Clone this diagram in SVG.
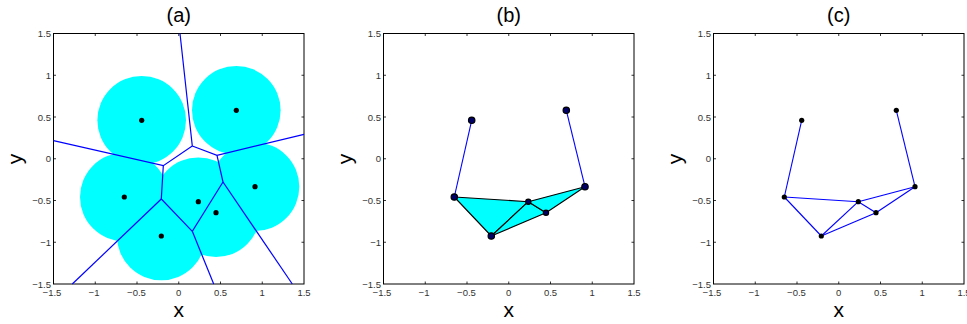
<svg xmlns="http://www.w3.org/2000/svg" width="967" height="324" viewBox="0 0 967 324">
<style>
.frame{fill:none;stroke:#000;stroke-width:1}
.tick{stroke:#000;stroke-width:0.8}
.tl{font-family:"Liberation Sans",Arial,sans-serif;font-size:9.5px;fill:#333}
.tx{text-anchor:middle}
.ty{text-anchor:end}
.ax{font-family:"Liberation Sans",Arial,sans-serif;font-size:21px;fill:#000;text-anchor:middle}
.ttl{font-family:"Liberation Sans",Arial,sans-serif;font-size:20px;fill:#000;text-anchor:middle}
.cell{fill:#00ffff}
.vor{stroke:#0000ff;stroke-width:1.2;fill:none}
.edge{stroke:#0000ff;stroke-width:1.1;fill:none}
.tri{fill:#00ffff;stroke:#000;stroke-width:1.1;stroke-linejoin:round}
.dot{fill:#000}
.bdot{fill:#000066;stroke:#000;stroke-width:1.2}
</style>
<defs>
<g id="axes">
<rect class="frame" x="53.5" y="33.5" width="250.5" height="250.5"/>
<g class="tick">
<path d="M95.25,284v-2.5M137,284v-2.5M178.75,284v-2.5M220.5,284v-2.5M262.25,284v-2.5"/>
<path d="M95.25,33.5v2.5M137,33.5v2.5M178.75,33.5v2.5M220.5,33.5v2.5M262.25,33.5v2.5"/>
<path d="M53.5,75.25h2.5M53.5,117h2.5M53.5,158.75h2.5M53.5,200.5h2.5M53.5,242.25h2.5"/>
<path d="M304,75.25h-2.5M304,117h-2.5M304,158.75h-2.5M304,200.5h-2.5M304,242.25h-2.5"/>
</g>
<g class="tl tx">
<text x="52" y="296">−1.5</text>
<text x="94" y="296">−1</text>
<text x="136.5" y="296">−0.5</text>
<text x="178.75" y="296">0</text>
<text x="220.5" y="296">0.5</text>
<text x="262.25" y="296">1</text>
<text x="304" y="296">1.5</text>
</g>
<g class="tl ty">
<text x="51" y="37">1.5</text>
<text x="51" y="78.5">1</text>
<text x="51" y="120.5">0.5</text>
<text x="51" y="162">0</text>
<text x="51" y="204">−0.5</text>
<text x="51" y="245.5">−1</text>
<text x="51" y="287.5">−1.5</text>
</g>
<text class="ax" x="178.75" y="317">x</text>
<text class="ax" transform="translate(22,159) rotate(-90)">y</text>
</g>
</defs>

<g id="plot-a">
<use href="#axes"/>
<text class="ttl" x="178.75" y="22">(a)</text>
<g id="cells-a">
<circle class="cell" cx="141.7" cy="120.3" r="44.3"/>
<circle class="cell" cx="236.3" cy="110.3" r="44.3"/>
<circle class="cell" cx="124.3" cy="197" r="44.3"/>
<circle class="cell" cx="255" cy="186.7" r="44.3"/>
<circle class="cell" cx="198.3" cy="201.7" r="44.3"/>
<circle class="cell" cx="216" cy="212.7" r="44.3"/>
<circle class="cell" cx="161.3" cy="236" r="44.3"/>
</g>
<g id="voronoi-a" class="vor">
<path d="M180,33.5L192.3,146L163.3,165.7L53.5,140.7"/>
<path d="M192.3,146L217,155.3L304,134.3"/>
<path d="M163.3,165.7L161.3,199L192.3,231.3L223,182L217,155.3"/>
<path d="M161.3,199L72.3,284"/>
<path d="M192.3,231.3L213.7,284"/>
<path d="M223,182L292.3,284"/>
</g>
<g id="points-a">
<circle class="dot" cx="141.7" cy="120.3" r="2.6"/>
<circle class="dot" cx="236.3" cy="110.3" r="2.6"/>
<circle class="dot" cx="124.3" cy="197" r="2.6"/>
<circle class="dot" cx="255" cy="186.7" r="2.6"/>
<circle class="dot" cx="198.3" cy="201.7" r="2.6"/>
<circle class="dot" cx="216" cy="212.7" r="2.6"/>
<circle class="dot" cx="161.3" cy="236" r="2.6"/>
</g>
</g>

<g id="plot-b" transform="translate(330,0)">
<use href="#axes"/>
<text class="ttl" x="178.75" y="22">(b)</text>
<g id="connectors-b">
<path class="edge" d="M141.7,120.3L124.3,197"/>
<path class="edge" d="M236.3,110.3L255,186.7"/>
<polygon class="tri" points="124.3,197 198.3,201.7 161.3,236"/>
<polygon class="tri" points="198.3,201.7 216,212.7 161.3,236"/>
<polygon class="tri" points="198.3,201.7 255,186.7 216,212.7"/>
</g>
<g id="nodes-b">
<g id="b1"><circle class="bdot" cx="141.7" cy="120.3" r="3.2"/></g>
<g id="b2"><circle class="bdot" cx="236.3" cy="110.3" r="3.2"/></g>
<g id="b3"><circle class="bdot" cx="124.3" cy="197" r="3.2"/></g>
<g id="b4"><circle class="bdot" cx="255" cy="186.7" r="3.2"/></g>
<g id="b5"><circle class="bdot" cx="198.3" cy="201.7" r="2.6"/></g>
<g id="b6"><circle class="bdot" cx="216" cy="212.7" r="2.6"/></g>
<g id="b7"><circle class="bdot" cx="161.3" cy="236" r="3.2"/></g>
</g>
</g>

<g id="plot-c" transform="translate(660,0)">
<use href="#axes"/>
<text class="ttl" x="178.75" y="22">(c)</text>
<g id="connectors-c" class="edge">
<path d="M141.7,120.3L124.3,197"/>
<path d="M236.3,110.3L255,186.7"/>
<path d="M124.3,197L198.3,201.7"/>
<path d="M124.3,197L161.3,236"/>
<path d="M161.3,236L198.3,201.7"/>
<path d="M161.3,236L216,212.7"/>
<path d="M198.3,201.7L216,212.7"/>
<path d="M198.3,201.7L255,186.7"/>
<path d="M216,212.7L255,186.7"/>
</g>
<g id="nodes-c">
<g id="c1"><circle class="dot" cx="141.7" cy="120.3" r="2.6"/></g>
<g id="c2"><circle class="dot" cx="236.3" cy="110.3" r="2.6"/></g>
<g id="c3"><circle class="dot" cx="124.3" cy="197" r="2.6"/></g>
<g id="c4"><circle class="dot" cx="255" cy="186.7" r="2.6"/></g>
<g id="c5"><circle class="dot" cx="198.3" cy="201.7" r="2.6"/></g>
<g id="c6"><circle class="dot" cx="216" cy="212.7" r="2.6"/></g>
<g id="c7"><circle class="dot" cx="161.3" cy="236" r="2.6"/></g>
</g>
</g>
</svg>
